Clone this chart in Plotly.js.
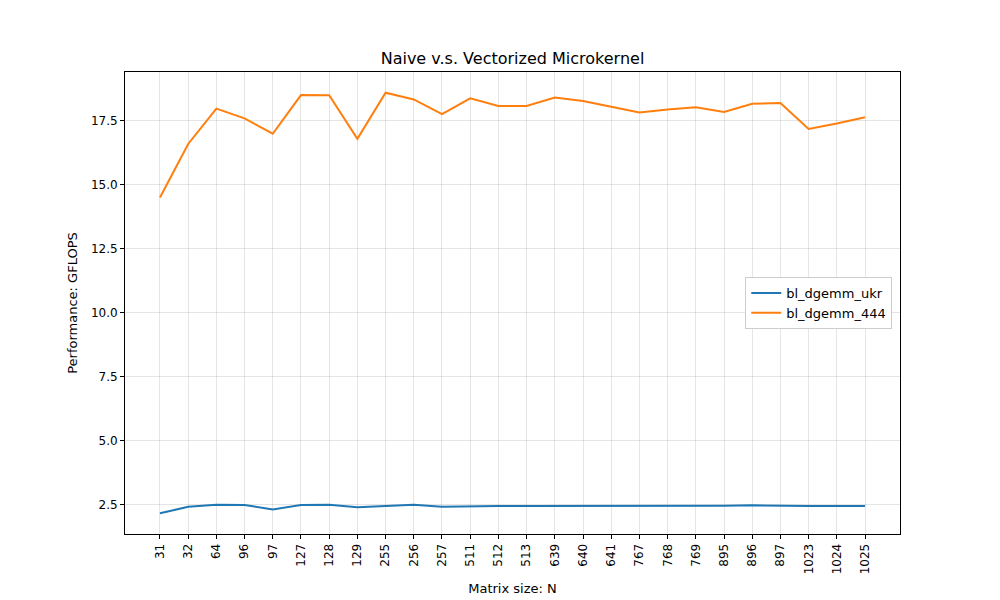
<!DOCTYPE html>
<html><head><meta charset="utf-8">
<script src="https://cdn.plot.ly/plotly-3.0.1.min.js"></script>
<style>body{margin:0}#plot{width:1000px;height:600px}</style>
</head><body><div id="plot"></div>
<script>
// matrix sizes tested
const sizes = ['31','32','64','96','97','127','128','129','255','256','257','511','512','513','639','640','641','767','768','769','895','896','897','1023','1024','1025'];
const ukr = [2.17,2.42,2.50,2.49,2.32,2.49,2.50,2.40,2.45,2.50,2.42,2.44,2.45,2.45,2.45,2.47,2.45,2.45,2.47,2.46,2.46,2.48,2.46,2.45,2.45,2.45];
const k444 = [14.49,16.58,17.96,17.58,16.98,18.49,18.48,16.78,18.58,18.32,17.75,18.36,18.06,18.06,18.39,18.26,18.03,17.81,17.93,18.01,17.83,18.15,18.18,17.17,17.38,17.62];

const traces = [
    { x: sizes, y: ukr, type: 'scatter', mode: 'lines', name: 'bl_dgemm_ukr', line: { color: '#1f77b4', width: 2 } },
    { x: sizes, y: k444, type: 'scatter', mode: 'lines', name: 'bl_dgemm_444', line: { color: '#ff7f0e', width: 2 } }
];

const axisStyle = {
    showline: true, mirror: true, linecolor: '#000', linewidth: 1,
    ticks: 'outside', ticklen: 4, tickcolor: '#000',
    gridcolor: 'rgba(0,0,0,0.1)', zeroline: false,
    tickfont: { size: 12, color: '#000' }
};

const layout = {
    width: 1000, height: 600,
    margin: { l: 125, r: 100, t: 72, b: 66 },
    font: { family: 'DejaVu Sans', color: '#000' },
    title: { text: 'Naive v.s. Vectorized Microkernel', font: { size: 16 }, x: 0.5125, y: 0.903, xanchor: 'center', yanchor: 'middle' },
    xaxis: Object.assign({}, axisStyle, {
        type: 'category', range: [-1.24, 26.24], tickangle: -90,
        title: { text: 'Matrix size: N', font: { size: 13 }, standoff: 10 }
    }),
    yaxis: Object.assign({}, axisStyle, {
        range: [1.36, 19.39], tickvals: [2.5,5,7.5,10,12.5,15,17.5],
        ticktext: ['2.5','5.0','7.5','10.0','12.5','15.0','17.5'],
        title: { text: 'Performance: GFLOPS', font: { size: 13 }, standoff: 10 }
    }),
    legend: {
        x: 0.99, y: 0.5, xanchor: 'right', yanchor: 'middle',
        bordercolor: '#ccc', borderwidth: 1, bgcolor: '#fff',
        font: { size: 13 }
    },
    plot_bgcolor: '#fff', paper_bgcolor: '#fff'
};

Plotly.newPlot('plot', traces, layout, { displayModeBar: false });
</script></body></html>
